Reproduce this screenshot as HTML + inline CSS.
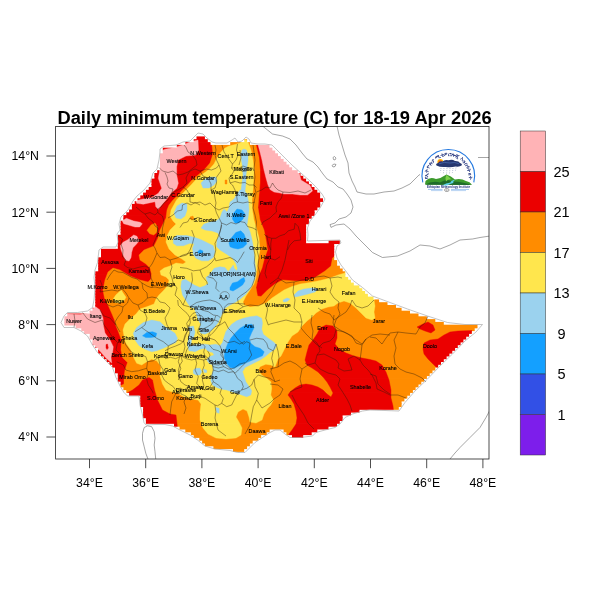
<!DOCTYPE html><html><head><meta charset="utf-8"><title>Daily minimum temperature</title><style>html,body{margin:0;padding:0;background:#fff}body{width:600px;height:600px;overflow:hidden}</style></head><body><svg width="600" height="600" viewBox="0 0 600 600" style="display:block;font-family:'Liberation Sans',sans-serif">
<rect width="600" height="600" fill="#fff"/>
<defs><clipPath id="cc"><rect x="196.5" y="136.4" width="8.4" height="3.61"/><rect x="193.7" y="139.2" width="14.1" height="3.61"/><rect x="244.3" y="139.2" width="2.8" height="3.61"/><rect x="185.3" y="142.1" width="25.3" height="3.61"/><rect x="230.2" y="142.1" width="19.7" height="3.61"/><rect x="176.8" y="144.9" width="92.7" height="3.61"/><rect x="162.8" y="147.7" width="109.6" height="3.61"/><rect x="162.8" y="150.5" width="112.4" height="3.61"/><rect x="160.0" y="153.3" width="118.0" height="3.61"/><rect x="160.0" y="156.1" width="120.8" height="3.61"/><rect x="160.0" y="158.9" width="123.6" height="3.61"/><rect x="160.0" y="161.7" width="126.5" height="3.61"/><rect x="160.0" y="164.5" width="129.3" height="3.61"/><rect x="160.0" y="167.3" width="132.1" height="3.61"/><rect x="157.2" y="170.2" width="140.5" height="3.61"/><rect x="154.4" y="173.0" width="146.1" height="3.61"/><rect x="154.4" y="175.8" width="148.9" height="3.61"/><rect x="151.5" y="178.6" width="154.6" height="3.61"/><rect x="151.5" y="181.4" width="157.4" height="3.61"/><rect x="151.5" y="184.2" width="160.2" height="3.61"/><rect x="148.7" y="187.0" width="165.8" height="3.61"/><rect x="145.9" y="189.8" width="171.4" height="3.61"/><rect x="143.1" y="192.6" width="177.0" height="3.61"/><rect x="140.3" y="195.4" width="179.8" height="3.61"/><rect x="137.5" y="198.3" width="185.5" height="3.61"/><rect x="134.7" y="201.1" width="185.5" height="3.61"/><rect x="131.9" y="203.9" width="188.3" height="3.61"/><rect x="131.9" y="206.7" width="185.5" height="3.61"/><rect x="129.1" y="209.5" width="185.5" height="3.61"/><rect x="126.3" y="212.3" width="188.3" height="3.61"/><rect x="123.4" y="215.1" width="188.3" height="3.61"/><rect x="123.4" y="217.9" width="185.5" height="3.61"/><rect x="120.6" y="220.7" width="188.3" height="3.61"/><rect x="120.6" y="223.5" width="185.5" height="3.61"/><rect x="120.6" y="226.4" width="185.5" height="3.61"/><rect x="120.6" y="229.2" width="185.5" height="3.61"/><rect x="120.6" y="232.0" width="185.5" height="3.61"/><rect x="117.8" y="234.8" width="188.3" height="3.61"/><rect x="117.8" y="237.6" width="188.3" height="3.61"/><rect x="117.8" y="240.4" width="188.3" height="3.61"/><rect x="328.6" y="240.4" width="11.2" height="3.61"/><rect x="117.8" y="243.2" width="216.4" height="3.61"/><rect x="117.8" y="246.0" width="216.4" height="3.61"/><rect x="101.0" y="248.8" width="233.2" height="3.61"/><rect x="101.0" y="251.6" width="233.2" height="3.61"/><rect x="101.0" y="254.5" width="233.2" height="3.61"/><rect x="98.2" y="257.3" width="236.0" height="3.61"/><rect x="98.2" y="260.1" width="238.9" height="3.61"/><rect x="98.2" y="262.9" width="238.9" height="3.61"/><rect x="98.2" y="265.7" width="241.7" height="3.61"/><rect x="98.2" y="268.5" width="244.5" height="3.61"/><rect x="95.3" y="271.3" width="250.1" height="3.61"/><rect x="95.3" y="274.1" width="250.1" height="3.61"/><rect x="95.3" y="276.9" width="252.9" height="3.61"/><rect x="95.3" y="279.7" width="255.7" height="3.61"/><rect x="95.3" y="282.6" width="258.5" height="3.61"/><rect x="95.3" y="285.4" width="264.1" height="3.61"/><rect x="95.3" y="288.2" width="267.0" height="3.61"/><rect x="95.3" y="291.0" width="269.8" height="3.61"/><rect x="95.3" y="293.8" width="272.6" height="3.61"/><rect x="95.3" y="296.6" width="278.2" height="3.61"/><rect x="95.3" y="299.4" width="283.8" height="3.61"/><rect x="95.3" y="302.2" width="292.2" height="3.61"/><rect x="95.3" y="305.0" width="300.7" height="3.61"/><rect x="92.5" y="307.8" width="309.1" height="3.61"/><rect x="89.7" y="310.7" width="320.3" height="3.61"/><rect x="67.2" y="313.5" width="351.3" height="3.61"/><rect x="64.4" y="316.3" width="362.5" height="3.61"/><rect x="64.4" y="319.1" width="370.9" height="3.61"/><rect x="64.4" y="321.9" width="379.4" height="3.61"/><rect x="75.7" y="324.7" width="401.8" height="3.61"/><rect x="81.3" y="327.5" width="393.4" height="3.61"/><rect x="84.1" y="330.3" width="387.8" height="3.61"/><rect x="89.7" y="333.1" width="379.4" height="3.61"/><rect x="89.7" y="335.9" width="376.5" height="3.61"/><rect x="92.5" y="338.8" width="370.9" height="3.61"/><rect x="92.5" y="341.6" width="368.1" height="3.61"/><rect x="95.3" y="344.4" width="362.5" height="3.61"/><rect x="98.2" y="347.2" width="356.9" height="3.61"/><rect x="98.2" y="350.0" width="354.1" height="3.61"/><rect x="101.0" y="352.8" width="348.4" height="3.61"/><rect x="103.8" y="355.6" width="342.8" height="3.61"/><rect x="106.6" y="358.4" width="337.2" height="3.61"/><rect x="109.4" y="361.2" width="331.6" height="3.61"/><rect x="112.2" y="364.0" width="326.0" height="3.61"/><rect x="115.0" y="366.9" width="320.3" height="3.61"/><rect x="115.0" y="369.7" width="317.5" height="3.61"/><rect x="117.8" y="372.5" width="311.9" height="3.61"/><rect x="117.8" y="375.3" width="309.1" height="3.61"/><rect x="117.8" y="378.1" width="306.3" height="3.61"/><rect x="120.6" y="380.9" width="300.7" height="3.61"/><rect x="120.6" y="383.7" width="297.9" height="3.61"/><rect x="123.4" y="386.5" width="292.2" height="3.61"/><rect x="126.3" y="389.3" width="286.6" height="3.61"/><rect x="129.1" y="392.1" width="281.0" height="3.61"/><rect x="140.3" y="395.0" width="267.0" height="3.61"/><rect x="140.3" y="397.8" width="264.1" height="3.61"/><rect x="140.3" y="400.6" width="261.3" height="3.61"/><rect x="140.3" y="403.4" width="261.3" height="3.61"/><rect x="143.1" y="406.2" width="255.7" height="3.61"/><rect x="143.1" y="409.0" width="216.4" height="3.61"/><rect x="143.1" y="411.8" width="207.9" height="3.61"/><rect x="143.1" y="414.6" width="199.5" height="3.61"/><rect x="145.9" y="417.4" width="196.7" height="3.61"/><rect x="145.9" y="420.2" width="193.9" height="3.61"/><rect x="174.0" y="423.1" width="163.0" height="3.61"/><rect x="179.6" y="425.9" width="148.9" height="3.61"/><rect x="185.3" y="428.7" width="84.3" height="3.61"/><rect x="283.6" y="428.7" width="33.7" height="3.61"/><rect x="190.9" y="431.5" width="75.9" height="3.61"/><rect x="286.4" y="431.5" width="25.3" height="3.61"/><rect x="193.7" y="434.3" width="67.4" height="3.61"/><rect x="292.0" y="434.3" width="11.2" height="3.61"/><rect x="199.3" y="437.1" width="59.0" height="3.61"/><rect x="202.1" y="439.9" width="50.6" height="3.61"/><rect x="204.9" y="442.7" width="45.0" height="3.61"/><rect x="213.4" y="445.5" width="33.7" height="3.61"/><rect x="233.0" y="448.3" width="11.2" height="3.61"/></clipPath><clipPath id="unused"><polygon points="160.0,149.0 164.0,146.0 176.0,145.0 183.0,142.0 190.0,141.0 194.0,137.0 198.0,133.0 203.0,134.0 207.0,138.0 212.0,142.0 216.0,143.0 227.0,143.0 232.0,140.0 235.0,138.0 238.0,142.0 242.0,141.0 246.0,137.0 249.0,139.0 251.0,143.0 258.0,144.0 265.0,144.0 272.0,145.0 282.0,155.0 292.0,165.0 302.0,174.0 310.0,181.0 316.0,187.0 322.0,194.0 325.0,199.0 320.0,208.0 315.0,215.0 310.0,221.0 307.5,228.0 308.0,235.0 307.5,241.0 323.0,240.5 340.0,240.0 341.0,243.0 337.0,246.0 335.5,252.0 337.0,258.0 341.0,265.0 345.0,270.0 352.5,280.0 362.5,287.5 372.5,296.0 390.0,302.5 407.5,309.0 427.5,316.0 447.5,322.5 465.0,324.5 482.5,324.5 476.0,332.0 465.0,341.0 452.5,354.0 440.0,366.0 427.5,379.0 415.0,391.0 405.0,402.5 399.0,411.0 385.0,410.5 370.0,410.0 362.5,411.0 352.5,414.0 345.0,417.5 340.0,424.0 335.0,427.5 325.0,430.0 316.0,432.5 312.5,436.0 300.0,437.5 290.0,437.5 285.0,434.0 280.0,430.0 275.0,430.0 270.0,432.5 262.5,437.5 255.0,442.5 250.0,447.5 245.0,452.5 237.5,452.5 230.0,450.5 215.0,449.0 205.0,446.0 197.5,440.0 190.0,435.0 180.0,430.0 172.5,426.0 165.0,424.5 155.0,424.5 146.0,425.0 144.0,422.5 142.5,415.0 140.0,405.0 139.0,396.0 127.5,396.0 124.0,392.5 120.0,386.0 116.0,377.5 112.5,367.5 105.0,360.0 97.5,352.5 92.5,345.0 87.5,336.0 81.0,331.0 74.0,327.5 64.0,327.5 61.0,322.5 64.0,316.0 67.5,312.5 77.5,312.5 87.5,311.0 92.5,307.5 94.0,300.0 95.0,287.5 94.0,277.5 95.0,270.0 97.5,262.5 99.0,250.0 103.0,247.0 116.0,247.0 118.0,242.0 117.0,234.0 120.0,230.0 119.0,224.0 121.0,217.0 128.0,210.0 133.0,201.0 137.0,196.0 144.0,190.0 150.0,183.0 153.0,173.0 157.0,169.0 159.0,160.0 160.0,152.0"/></clipPath><clipPath id="fr"><rect x="55.6" y="126.5" width="433.4" height="332.5"/></clipPath></defs>
<g clip-path="url(#fr)">
<polyline points="262.5,126.0 267.5,130.0 272.5,134.0 282.5,136.0 290.0,139.0 296.0,145.0 302.0,153.0 307.0,159.0 313.0,162.0 318.0,167.0 323.0,174.0 327.0,179.0 333.0,182.0 338.0,187.0 343.0,189.0 347.0,194.0 351.0,200.0 353.0,207.0 351.0,213.0 346.0,217.0 339.0,219.0 335.0,223.0 330.0,224.6 331.0,227.4 336.0,225.0 344.0,224.0 350.0,229.0 356.0,236.0 363.0,243.0 365.0,245.0 372.5,252.5 382.5,257.5 397.5,256.0 410.0,251.0 420.0,245.0 430.0,246.0 440.0,249.0 450.0,245.0 460.0,240.0 472.5,239.0 480.0,237.5 490.0,236.0" fill="none" stroke="#6a6a6a" stroke-width="0.6" />
<polyline points="337.0,126.0 339.0,135.0 342.0,145.0 345.0,155.0 348.0,163.0 349.0,173.0 352.0,181.0 355.0,187.0 357.0,192.0 366.0,194.0 374.0,194.0 384.0,192.0 394.0,191.0 402.0,188.0 410.0,184.0 415.0,179.0 419.0,175.0 425.0,172.0 440.0,166.0 460.0,160.0 477.5,157.5 490.0,157.5" fill="none" stroke="#6a6a6a" stroke-width="0.6" />
<polyline points="333.0,157.5 334.5,156.5 336.0,158.0 335.0,160.0 333.5,159.5 333.0,157.5" fill="none" stroke="#6a6a6a" stroke-width="0.6" />
<polyline points="332.0,165.5 334.0,164.0 336.0,164.5 335.0,166.5 333.0,167.0 332.0,165.5" fill="none" stroke="#6a6a6a" stroke-width="0.6" />
<polyline points="450.0,459.0 455.0,453.0 460.0,447.5 470.0,437.5 480.0,427.5 486.0,417.5 490.0,410.0" fill="none" stroke="#6a6a6a" stroke-width="0.6" />
<polyline points="151.7,426.7 147.5,425.8 144.2,427.5 142.5,433.3 142.5,440.0 144.2,446.7 145.8,453.3 148.3,460.0" fill="none" stroke="#6a6a6a" stroke-width="0.6" />
<polyline points="151.7,426.7 154.2,431.7 155.0,438.3 154.2,445.0 155.0,451.7 155.8,460.0" fill="none" stroke="#6a6a6a" stroke-width="0.6" />
<g clip-path="url(#cc)">
<polygon points="160.0,149.0 164.0,146.0 176.0,145.0 183.0,142.0 190.0,141.0 194.0,137.0 198.0,133.0 203.0,134.0 207.0,138.0 212.0,142.0 216.0,143.0 227.0,143.0 232.0,140.0 235.0,138.0 238.0,142.0 242.0,141.0 246.0,137.0 249.0,139.0 251.0,143.0 258.0,144.0 265.0,144.0 272.0,145.0 282.0,155.0 292.0,165.0 302.0,174.0 310.0,181.0 316.0,187.0 322.0,194.0 325.0,199.0 320.0,208.0 315.0,215.0 310.0,221.0 307.5,228.0 308.0,235.0 307.5,241.0 323.0,240.5 340.0,240.0 341.0,243.0 337.0,246.0 335.5,252.0 337.0,258.0 341.0,265.0 345.0,270.0 352.5,280.0 362.5,287.5 372.5,296.0 390.0,302.5 407.5,309.0 427.5,316.0 447.5,322.5 465.0,324.5 482.5,324.5 476.0,332.0 465.0,341.0 452.5,354.0 440.0,366.0 427.5,379.0 415.0,391.0 405.0,402.5 399.0,411.0 385.0,410.5 370.0,410.0 362.5,411.0 352.5,414.0 345.0,417.5 340.0,424.0 335.0,427.5 325.0,430.0 316.0,432.5 312.5,436.0 300.0,437.5 290.0,437.5 285.0,434.0 280.0,430.0 275.0,430.0 270.0,432.5 262.5,437.5 255.0,442.5 250.0,447.5 245.0,452.5 237.5,452.5 230.0,450.5 215.0,449.0 205.0,446.0 197.5,440.0 190.0,435.0 180.0,430.0 172.5,426.0 165.0,424.5 155.0,424.5 146.0,425.0 144.0,422.5 142.5,415.0 140.0,405.0 139.0,396.0 127.5,396.0 124.0,392.5 120.0,386.0 116.0,377.5 112.5,367.5 105.0,360.0 97.5,352.5 92.5,345.0 87.5,336.0 81.0,331.0 74.0,327.5 64.0,327.5 61.0,322.5 64.0,316.0 67.5,312.5 77.5,312.5 87.5,311.0 92.5,307.5 94.0,300.0 95.0,287.5 94.0,277.5 95.0,270.0 97.5,262.5 99.0,250.0 103.0,247.0 116.0,247.0 118.0,242.0 117.0,234.0 120.0,230.0 119.0,224.0 121.0,217.0 128.0,210.0 133.0,201.0 137.0,196.0 144.0,190.0 150.0,183.0 153.0,173.0 157.0,169.0 159.0,160.0 160.0,152.0" fill="#EB0000" />
<polygon points="208.0,132.0 257.0,132.0 256.0,145.0 259.0,157.5 260.0,170.0 260.0,182.5 259.0,195.0 258.0,207.5 260.0,220.0 264.0,230.0 266.0,240.0 267.5,250.0 264.0,260.0 262.0,268.0 259.0,275.0 256.0,287.5 257.5,296.0 261.0,296.5 267.5,290.0 275.0,284.0 282.5,280.0 295.0,281.0 305.0,281.0 315.0,277.5 325.0,271.0 331.0,266.0 332.5,258.0 340.0,252.0 360.0,275.0 400.0,295.0 495.0,318.0 495.0,335.0 400.0,425.0 300.0,450.0 200.0,455.0 150.0,432.0 135.0,400.0 125.0,400.0 120.0,386.0 124.0,384.0 124.0,377.5 125.0,370.0 127.5,362.5 122.5,357.5 121.0,350.0 121.5,340.0 118.5,332.0 116.0,326.0 114.5,320.0 112.0,314.0 108.5,306.0 104.5,298.0 103.0,290.0 105.0,280.0 108.0,272.0 113.0,268.0 120.0,270.0 130.0,276.0 140.0,280.0 148.0,282.0 151.0,279.0 151.5,274.0 150.0,268.0 146.0,264.0 140.0,260.0 139.0,255.0 144.0,250.0 154.0,246.0 157.0,240.0 158.0,238.0 160.0,230.0 163.0,224.0 166.0,218.0 167.0,210.0 169.0,205.0 173.0,200.0 178.0,195.0 182.5,190.0 187.5,185.0 192.0,180.0 198.0,175.0 204.0,170.0 210.0,163.0 213.0,154.0 212.0,145.0 208.0,138.0" fill="#FF8C00" stroke="#FF8C00" stroke-width="0.4" stroke-linejoin="round"/>
<polygon points="147.0,230.3 151.0,225.0 155.0,223.0 157.7,227.0 157.0,232.3 153.7,235.0 149.7,233.7" fill="#FF8C00" stroke="#FF8C00" stroke-width="0.4" stroke-linejoin="round"/>
<polygon points="317.0,334.0 320.0,328.0 326.0,325.0 333.0,326.0 337.0,331.0 337.0,338.0 335.0,344.0 339.0,349.0 346.0,353.0 354.0,356.0 362.0,358.0 370.0,359.5 376.0,361.0 382.0,365.0 386.0,372.0 389.0,380.0 391.0,390.0 391.0,398.0 393.0,406.0 394.0,415.0 340.0,430.0 300.0,445.0 287.0,442.0 289.0,434.0 292.0,430.0 296.0,424.0 297.0,418.0 296.0,411.0 294.0,404.0 291.0,399.0 288.0,395.0 290.0,392.0 295.0,388.0 300.0,385.0 306.0,384.0 312.0,385.0 318.0,387.0 323.0,390.0 327.0,394.0 331.0,397.0 333.0,393.0 330.0,387.0 327.0,382.0 323.0,377.0 318.0,372.0 312.0,368.0 307.0,365.0 305.0,360.0 307.0,352.0 309.0,345.0 313.0,340.0" fill="#EB0000" stroke="#EB0000" stroke-width="0.4" stroke-linejoin="round"/>
<polygon points="142.5,380.0 149.0,377.5 152.5,380.0 154.5,390.0 157.5,400.0 162.5,410.0 170.0,414.0 176.0,415.0 177.5,428.0 140.0,432.0 136.0,400.0 126.0,398.0 127.0,393.0 132.5,390.0 139.0,385.0" fill="#EB0000" stroke="#EB0000" stroke-width="0.4" stroke-linejoin="round"/>
<polygon points="417.0,327.0 423.0,324.0 428.0,322.0 433.0,325.0 435.0,330.0 431.0,333.0 425.0,331.0 420.0,329.0" fill="#EB0000" stroke="#EB0000" stroke-width="0.4" stroke-linejoin="round"/>
<polygon points="423.0,349.0 424.0,343.0 430.0,340.0 438.0,339.0 444.0,335.0 450.0,332.0 458.0,331.0 472.0,330.5 470.0,345.0 445.0,372.0 443.0,362.0 437.0,368.0 433.0,364.0 428.0,359.0 424.0,354.0" fill="#EB0000" stroke="#EB0000" stroke-width="0.4" stroke-linejoin="round"/>
<polygon points="257.5,143.0 272.5,144.0 282.5,154.0 292.5,164.0 299.0,172.0 301.0,180.0 310.0,185.5 312.5,191.0 307.5,195.0 300.0,195.0 292.5,194.0 284.0,194.0 280.0,193.0 274.0,192.0 270.0,189.5 268.0,185.0 266.0,178.0 264.0,170.0 262.0,160.0 260.0,152.0" fill="#FFB3B6" stroke="#FFB3B6" stroke-width="0.4" stroke-linejoin="round"/>
<polygon points="159.2,151.7 165.0,149.2 176.7,147.0 183.3,144.7 190.0,142.0 198.0,140.0 198.5,150.0 196.0,155.0 186.0,156.0 178.0,160.0 176.7,166.7 176.7,175.0 178.3,183.3 176.7,188.3 171.7,192.5 166.7,199.2 161.7,205.0 158.3,209.2 155.8,206.7 155.0,201.7 143.3,204.2 136.7,203.3 135.8,200.8 141.7,199.2 151.7,197.5 158.3,193.3 161.7,188.3 160.0,183.3 158.3,178.3 159.2,173.3 160.0,168.3 159.2,163.3" fill="#FFB3B6" stroke="#FFB3B6" stroke-width="0.4" stroke-linejoin="round"/>
<polygon points="122.3,221.0 126.3,218.3 133.7,221.0 140.3,222.3 142.3,223.7 139.7,227.0 135.0,227.0 128.3,225.0 123.7,223.7" fill="#FFB3B6" stroke="#FFB3B6" stroke-width="0.4" stroke-linejoin="round"/>
<polygon points="120.3,245.7 123.0,242.3 127.7,239.7 133.7,235.0 137.0,236.3 139.0,241.0 136.3,244.3 133.0,247.7 131.7,252.3 131.0,257.7 129.0,261.0 125.7,260.3 123.0,255.0 121.0,249.7" fill="#FFB3B6" stroke="#FFB3B6" stroke-width="0.4" stroke-linejoin="round"/>
<polygon points="67.5,314.0 80.0,314.5 88.0,313.0 92.0,309.0 96.0,307.0 100.0,310.0 103.0,318.0 103.5,326.0 105.0,333.0 110.0,340.0 113.3,346.7 112.5,353.0 111.0,357.0 111.7,363.0 106.0,358.0 99.0,350.0 92.5,344.0 87.5,336.0 81.0,331.0 74.0,327.5 60.0,328.0 58.0,321.0 62.0,313.0" fill="#FFB3B6" stroke="#FFB3B6" stroke-width="0.4" stroke-linejoin="round"/>
<polygon points="106.0,344.5 107.5,344.0 108.3,348.0 107.0,349.5 106.0,348.0" fill="#EB0000" stroke="#EB0000" stroke-width="0.4" stroke-linejoin="round"/>
<polygon points="229.0,146.0 235.0,144.5 240.0,143.0 243.0,141.0 246.0,139.5 248.0,142.0 251.0,150.0 253.0,160.0 254.0,170.0 253.6,180.0 253.0,190.0 252.0,200.0 252.4,210.0 254.0,220.0 257.0,230.0 259.0,238.0 259.5,245.0 260.0,250.0 258.0,260.0 257.0,270.0 256.0,278.0 254.0,284.0 250.0,290.0 246.0,296.0 243.0,302.0 244.0,305.0 250.0,307.0 258.0,306.0 266.0,303.0 272.0,298.0 278.0,294.0 284.0,290.0 292.0,286.5 300.0,284.0 310.0,282.5 320.0,280.5 330.0,278.0 338.0,275.0 345.0,273.0 346.0,268.0 352.0,268.0 358.0,278.0 368.0,286.0 378.0,295.0 374.0,300.0 375.0,306.0 374.0,312.0 375.0,318.0 372.0,320.0 366.0,318.0 361.0,313.0 356.0,308.0 350.0,303.0 344.0,301.0 338.0,303.0 334.0,306.0 328.0,307.0 322.0,309.0 316.0,313.0 312.0,317.0 307.0,321.0 302.0,326.0 298.0,332.0 292.0,336.0 288.0,342.0 284.0,350.0 281.0,356.0 278.0,359.0 275.0,367.0 270.8,365.0 265.8,364.2 260.0,366.7 258.3,370.0 261.7,375.0 266.7,378.3 270.8,381.7 271.7,388.3 270.8,395.0 273.3,400.0 270.8,405.0 268.0,408.0 264.0,414.0 262.0,420.0 256.0,423.0 250.0,422.0 249.0,417.0 247.0,411.0 243.0,409.0 238.0,412.0 236.0,417.0 239.0,422.0 242.0,428.0 241.0,435.0 236.0,438.0 226.0,439.0 216.0,438.0 208.0,434.0 203.0,428.0 200.0,420.0 200.0,412.0 201.0,404.0 198.0,400.0 192.0,399.0 184.0,397.0 178.0,393.0 172.5,392.0 166.0,390.0 162.5,384.0 160.0,376.0 161.0,367.5 160.0,365.0 156.7,360.8 151.7,359.2 146.7,361.7 141.7,365.0 136.7,363.3 133.3,356.7 130.8,350.0 125.5,342.5 124.0,336.0 123.0,330.0 125.0,324.0 130.0,319.0 136.0,314.0 140.0,309.0 146.0,307.0 154.0,304.0 156.0,299.0 159.0,295.0 164.0,290.0 168.0,285.0 169.0,280.0 166.0,277.0 161.0,275.0 160.0,271.0 164.0,268.0 170.0,266.0 176.0,263.0 183.0,264.0 186.0,262.0 182.0,259.0 175.0,255.0 169.0,249.0 166.0,242.0 167.0,236.0 170.0,230.0 172.0,228.0 176.0,224.0 173.0,221.0 170.0,216.0 171.0,210.0 176.5,200.0 181.0,195.0 186.0,190.0 191.0,185.0 195.5,180.0 202.0,174.5 209.0,169.5 214.0,164.0 218.0,156.0 221.0,152.0 225.0,148.0" fill="#FFE64D" stroke="#FFE64D" stroke-width="0.4" stroke-linejoin="round"/>
<polygon points="113.3,298.7 116.0,294.7 121.3,290.0 123.3,293.3 126.0,297.3 124.0,300.7 120.0,302.7 115.3,302.7" fill="#FFE64D" stroke="#FFE64D" stroke-width="0.4" stroke-linejoin="round"/>
<polygon points="201.0,183.0 205.0,179.0 211.0,177.0 216.0,177.0 217.0,181.0 214.0,185.0 209.0,188.0 203.0,188.0" fill="#9BD2EE" stroke="#9BD2EE" stroke-width="0.4" stroke-linejoin="round"/>
<polygon points="242.0,150.0 244.0,149.0 246.5,150.0 248.0,155.0 248.0,161.0 247.0,167.0 246.0,175.0 246.0,183.0 245.0,191.0 243.0,195.0 241.0,191.0 242.0,183.0 243.0,175.0 242.5,167.0 241.5,160.0 241.0,154.0" fill="#9BD2EE" stroke="#9BD2EE" stroke-width="0.4" stroke-linejoin="round"/>
<polygon points="177.0,206.0 182.0,203.0 187.0,204.0 187.0,210.0 185.0,216.0 181.0,219.0 176.0,218.0 174.0,213.0" fill="#9BD2EE" stroke="#9BD2EE" stroke-width="0.4" stroke-linejoin="round"/>
<polygon points="173.3,238.3 176.7,235.5 186.7,235.5 195.0,237.5 201.7,240.0 208.3,243.3 213.3,245.8 215.0,251.7 213.3,257.5 208.3,260.8 201.7,260.8 195.8,258.3 193.3,254.2 192.5,248.3 194.2,243.8 190.0,243.3 183.3,245.8 176.7,245.8 173.3,243.3" fill="#9BD2EE" stroke="#9BD2EE" stroke-width="0.4" stroke-linejoin="round"/>
<polygon points="240.0,190.0 244.0,190.0 247.0,194.0 248.5,202.0 249.0,210.0 248.0,218.0 247.0,225.0 250.0,231.7 251.7,238.3 253.3,246.7 254.2,255.0 255.0,263.3 255.8,271.7 255.0,278.3 252.5,285.0 249.2,290.0 245.0,295.0 240.0,299.2 235.0,302.5 230.0,305.0 225.0,308.3 222.5,313.3 221.7,315.0 220.0,318.3 218.3,322.5 215.0,326.7 210.0,331.7 205.0,334.2 200.8,333.3 199.2,329.2 200.8,324.2 198.3,320.0 196.7,315.0 194.2,308.3 190.0,306.7 186.7,301.7 182.5,295.0 180.8,286.7 181.7,280.8 185.0,279.2 189.2,281.7 194.2,285.0 200.0,287.5 205.0,285.8 208.3,283.3 207.0,280.5 205.8,277.5 208.3,275.8 211.7,271.7 214.2,268.3 220.0,266.7 225.0,267.5 228.3,271.7 230.8,268.3 233.3,265.0 234.2,268.3 236.7,270.8 237.5,268.3 235.8,263.3 232.5,258.3 226.7,254.2 220.0,250.0 216.5,246.5 217.0,240.0 219.0,236.0 218.0,233.0 212.0,231.0 205.0,230.0 201.0,228.0 204.0,224.0 210.0,222.0 216.0,221.0 220.0,218.0 222.0,212.0 224.0,209.0 227.0,212.0 229.0,208.0 230.0,202.0 234.0,199.0 237.0,194.0" fill="#9BD2EE" stroke="#9BD2EE" stroke-width="0.4" stroke-linejoin="round"/>
<polygon points="133.3,333.3 136.7,327.5 143.3,322.5 151.7,320.0 160.0,321.7 165.0,326.7 170.0,330.0 175.0,333.3 177.5,338.3 175.8,342.5 170.0,345.0 163.3,348.3 156.7,350.8 151.7,351.7 145.0,349.2 139.2,345.8 135.0,340.0" fill="#9BD2EE" stroke="#9BD2EE" stroke-width="0.4" stroke-linejoin="round"/>
<polygon points="228.3,328.3 231.7,324.2 236.7,320.8 243.3,318.3 250.0,316.7 256.7,315.8 261.7,318.3 262.5,323.3 261.7,329.2 263.3,334.2 268.3,338.3 273.3,341.7 276.7,345.0 275.0,349.2 270.0,352.5 265.0,356.7 260.0,360.0 255.0,362.5 250.0,365.0 245.0,367.5 242.5,371.7 244.2,376.7 245.8,381.7 249.2,386.7 251.7,390.8 250.8,395.0 246.7,396.7 241.7,395.0 236.7,393.3 231.7,391.7 226.7,390.0 221.7,389.2 216.7,387.5 212.5,385.0 210.8,380.8 211.7,375.0 213.3,370.0 212.5,365.0 209.2,363.3 206.7,360.0 209.2,356.7 214.2,355.0 212.5,352.5 207.5,350.8 205.0,348.3 200.0,349.2 195.0,351.7 190.0,350.8 189.2,347.5 192.5,345.0 198.3,344.2 205.0,344.2 210.0,345.0 215.8,344.2 220.0,345.8 222.5,342.5 224.2,336.7 225.8,331.7" fill="#9BD2EE" stroke="#9BD2EE" stroke-width="0.4" stroke-linejoin="round"/>
<polygon points="209.0,350.0 212.0,349.5 213.0,351.5 210.0,352.0" fill="#9BD2EE" stroke="#9BD2EE" stroke-width="0.4" stroke-linejoin="round"/>
<polygon points="193.3,370.0 195.8,368.3 200.0,368.3 201.7,371.7 200.0,375.0 195.8,375.0 193.3,373.3" fill="#9BD2EE" stroke="#9BD2EE" stroke-width="0.4" stroke-linejoin="round"/>
<polygon points="203.3,369.2 206.7,370.0 206.7,372.5 204.2,372.5" fill="#9BD2EE" stroke="#9BD2EE" stroke-width="0.4" stroke-linejoin="round"/>
<polygon points="215.8,407.5 219.2,408.3 219.2,413.3 216.7,412.5" fill="#9BD2EE" stroke="#9BD2EE" stroke-width="0.4" stroke-linejoin="round"/>
<polygon points="294.0,295.0 298.0,291.0 304.0,289.0 312.0,288.0 318.0,289.0 315.0,292.0 308.0,294.0 300.0,296.0 295.0,297.0" fill="#9BD2EE" stroke="#9BD2EE" stroke-width="0.4" stroke-linejoin="round"/>
<polygon points="283.0,300.0 287.0,298.0 290.0,299.0 287.0,301.6 283.6,302.0" fill="#9BD2EE" stroke="#9BD2EE" stroke-width="0.4" stroke-linejoin="round"/>
<polygon points="188.5,327.0 193.5,326.0 195.0,332.0 193.7,337.3 191.5,340.0 191.0,345.3 191.7,350.7 189.0,351.0 187.5,345.0 188.5,338.0 190.0,333.0" fill="#9BD2EE" stroke="#9BD2EE" stroke-width="0.4" stroke-linejoin="round"/>
<polygon points="233.0,214.0 237.0,209.0 242.0,210.0 245.0,214.0 243.0,219.0 239.0,223.0 235.0,223.0 232.4,219.0" fill="#14A0FF" stroke="#14A0FF" stroke-width="0.4" stroke-linejoin="round"/>
<polygon points="229.0,243.0 231.7,237.5 235.8,232.5 240.8,230.8 244.0,234.0 245.8,239.0 246.7,244.0 243.0,247.5 238.0,249.0 233.0,248.0 230.0,246.7" fill="#14A0FF" stroke="#14A0FF" stroke-width="0.4" stroke-linejoin="round"/>
<polygon points="230.0,287.5 232.5,283.0 237.5,281.7 241.0,279.0 244.0,277.5 245.0,281.0 242.5,285.0 238.0,288.0 233.0,291.0 230.0,290.0" fill="#14A0FF" stroke="#14A0FF" stroke-width="0.4" stroke-linejoin="round"/>
<polygon points="197.5,251.7 200.0,249.7 203.0,251.0 202.5,253.0 199.0,253.7" fill="#14A0FF" stroke="#14A0FF" stroke-width="0.4" stroke-linejoin="round"/>
<polygon points="142.5,335.8 146.7,332.5 152.5,331.7 156.7,333.3 155.8,336.7 150.8,337.5 145.8,337.5" fill="#14A0FF" stroke="#14A0FF" stroke-width="0.4" stroke-linejoin="round"/>
<polygon points="224.2,357.5 225.0,350.8 227.5,344.2 230.8,338.3 235.0,333.3 240.0,328.3 245.8,325.0 251.7,324.2 254.2,327.5 251.7,332.5 249.2,338.3 250.8,343.3 255.0,346.7 260.0,348.3 264.2,351.7 262.5,355.8 256.7,358.3 250.8,360.8 245.0,363.3 239.2,365.8 234.2,368.3 230.0,367.5 226.7,363.3" fill="#14A0FF" stroke="#14A0FF" stroke-width="0.4" stroke-linejoin="round"/>
<polygon points="225.0,180.0 227.0,180.0 227.0,184.0 225.0,184.0" fill="#FF8C00" stroke="#FF8C00" stroke-width="0.4" stroke-linejoin="round"/>
<polygon points="190.0,217.0 193.0,216.0 194.0,219.0 191.0,220.0" fill="#FF8C00" stroke="#FF8C00" stroke-width="0.4" stroke-linejoin="round"/>
</g>
<polyline points="159.0,167.5 162.5,171.0 168.0,172.5 173.0,171.0 178.0,175.0 183.0,174.0 188.0,172.0 193.0,168.0 197.0,165.0 196.0,160.0 192.5,155.0 188.0,152.0 186.0,147.5 184.0,145.0" fill="none" stroke="#2a1a0a" stroke-width="0.5" stroke-linejoin="round" opacity="0.85"/>
<polyline points="165.0,172.5 167.0,177.0 168.0,181.0 167.0,184.0 169.0,188.0 173.0,189.0 172.0,192.5 170.0,196.0 168.0,200.0 164.0,203.0 161.0,207.0 157.5,209.0 158.0,212.5" fill="none" stroke="#2a1a0a" stroke-width="0.5" stroke-linejoin="round" opacity="0.85"/>
<polyline points="136.0,207.0 142.0,212.0 145.0,214.0 150.0,212.5 155.0,215.0 157.5,212.5 162.5,216.0 164.0,222.0 162.5,228.0 162.0,235.0" fill="none" stroke="#2a1a0a" stroke-width="0.5" stroke-linejoin="round" opacity="0.85"/>
<polyline points="145.0,214.0 148.0,218.0 153.0,222.0 155.0,226.0 158.0,228.0 157.0,233.0" fill="none" stroke="#2a1a0a" stroke-width="0.5" stroke-linejoin="round" opacity="0.85"/>
<polyline points="170.0,196.0 173.0,192.5 178.0,190.0 183.0,187.0 187.0,183.0 186.0,178.0 188.0,174.0" fill="none" stroke="#2a1a0a" stroke-width="0.5" stroke-linejoin="round" opacity="0.85"/>
<polyline points="168.0,218.0 173.0,215.0 177.5,211.0 182.0,210.0 182.5,205.0 187.0,203.0 191.0,205.0 195.0,202.5 200.0,205.0" fill="none" stroke="#2a1a0a" stroke-width="0.5" stroke-linejoin="round" opacity="0.85"/>
<polyline points="180.0,227.5 183.0,223.0 187.5,222.0 190.0,218.0 193.0,220.0 197.5,217.5 200.0,218.0" fill="none" stroke="#2a1a0a" stroke-width="0.5" stroke-linejoin="round" opacity="0.85"/>
<polyline points="215.0,145.0 216.0,150.0 215.0,155.0 216.5,160.0 219.0,165.0 216.5,168.0 211.5,170.0 206.5,169.0 200.0,171.0 195.0,169.0 190.0,171.0 188.0,174.0" fill="none" stroke="#2a1a0a" stroke-width="0.5" stroke-linejoin="round" opacity="0.85"/>
<polyline points="237.5,144.0 236.5,150.0 238.0,155.0 236.0,160.0 232.5,164.0 231.5,168.0 234.0,171.0 231.5,175.0 229.0,178.0 230.0,183.0 232.5,185.0" fill="none" stroke="#2a1a0a" stroke-width="0.5" stroke-linejoin="round" opacity="0.85"/>
<polyline points="219.0,165.0 221.0,171.0 218.0,175.0 216.0,178.0 216.5,183.0 215.0,188.0 211.0,190.0" fill="none" stroke="#2a1a0a" stroke-width="0.5" stroke-linejoin="round" opacity="0.85"/>
<polyline points="231.5,168.0 237.5,167.5 243.0,169.0 248.0,167.5 252.5,168.0 254.0,171.0" fill="none" stroke="#2a1a0a" stroke-width="0.5" stroke-linejoin="round" opacity="0.85"/>
<polyline points="240.0,167.5 243.0,166.0 247.0,167.5 246.5,171.0 242.5,171.5 240.0,170.0 240.0,167.5" fill="none" stroke="#2a1a0a" stroke-width="0.5" stroke-linejoin="round" opacity="0.85"/>
<polyline points="230.0,183.0 235.0,181.5 240.0,183.0 245.0,182.5 249.0,185.0 254.0,185.0 256.5,187.5" fill="none" stroke="#2a1a0a" stroke-width="0.5" stroke-linejoin="round" opacity="0.85"/>
<polyline points="253.0,145.0 254.0,152.0 255.0,160.0 254.0,168.0 255.0,177.0 254.0,185.0 256.0,193.0 254.0,202.0 253.0,208.0 255.0,215.0 256.5,222.0 256.0,228.0 256.5,235.0 258.0,242.0 257.0,250.0 259.0,258.0 258.0,266.0 260.0,274.0 258.0,282.0" fill="none" stroke="#2a1a0a" stroke-width="0.5" stroke-linejoin="round" opacity="0.85"/>
<polyline points="256.5,192.0 261.5,190.0 266.0,187.0 270.0,188.0 272.5,183.0 275.0,187.0 278.0,190.0 283.0,192.0 290.0,192.5 298.0,191.0 305.0,193.0 311.0,190.0" fill="none" stroke="#2a1a0a" stroke-width="0.5" stroke-linejoin="round" opacity="0.85"/>
<polyline points="283.0,192.0 281.5,198.0 278.0,202.0 276.0,207.0 276.5,212.0 273.0,215.0 270.0,218.0 266.5,220.0 263.0,222.0 261.5,225.0" fill="none" stroke="#2a1a0a" stroke-width="0.5" stroke-linejoin="round" opacity="0.85"/>
<polyline points="232.5,185.0 235.0,190.0 236.5,195.0 237.5,202.0 243.0,203.0 247.5,202.0 251.5,203.0 255.0,202.0" fill="none" stroke="#2a1a0a" stroke-width="0.5" stroke-linejoin="round" opacity="0.85"/>
<polyline points="211.0,190.0 214.0,192.5 215.0,198.0 216.0,203.0 215.0,208.0 219.0,210.0 223.0,208.0 229.0,207.0 233.0,203.0 237.5,202.0" fill="none" stroke="#2a1a0a" stroke-width="0.5" stroke-linejoin="round" opacity="0.85"/>
<polyline points="183.0,187.0 187.0,190.0 190.0,196.0 190.0,202.0 195.0,203.0 200.0,202.0 205.0,205.0 210.0,203.0 215.0,208.0" fill="none" stroke="#2a1a0a" stroke-width="0.5" stroke-linejoin="round" opacity="0.85"/>
<polyline points="215.0,208.0 216.5,213.0 219.0,218.0 221.5,223.0 221.0,228.0 219.0,235.0 221.7,240.0" fill="none" stroke="#2a1a0a" stroke-width="0.5" stroke-linejoin="round" opacity="0.85"/>
<polyline points="221.5,223.0 226.5,225.0 231.0,222.5 236.0,224.0 240.0,221.5 245.0,222.5 247.5,226.5 253.0,228.0 256.5,230.0" fill="none" stroke="#2a1a0a" stroke-width="0.5" stroke-linejoin="round" opacity="0.85"/>
<polyline points="118.0,236.0 122.5,239.0 121.0,244.0 123.0,250.0 122.5,257.0 126.0,260.0 124.0,265.0 127.5,267.5 133.0,269.0 138.0,267.5 145.0,266.0 149.0,268.0" fill="none" stroke="#2a1a0a" stroke-width="0.5" stroke-linejoin="round" opacity="0.85"/>
<polyline points="157.0,225.0 158.0,232.0 156.0,238.0 153.0,245.0 155.0,248.0 157.0,253.0 160.0,257.5 165.0,257.0 170.0,260.0 177.0,258.0 183.0,255.0 190.0,253.0" fill="none" stroke="#2a1a0a" stroke-width="0.5" stroke-linejoin="round" opacity="0.85"/>
<polyline points="157.0,253.0 154.0,260.0 152.0,264.0 149.0,268.0 150.0,273.0 151.0,278.0 153.0,282.5 152.0,287.5" fill="none" stroke="#2a1a0a" stroke-width="0.5" stroke-linejoin="round" opacity="0.85"/>
<polyline points="107.0,280.0 110.0,275.0 114.0,270.0 118.0,272.0 123.0,272.5 127.5,275.0 132.0,277.5 137.0,279.0 142.0,283.0 147.0,286.0 151.0,287.5 155.0,287.0 160.0,288.0 167.0,286.0 172.0,287.0 173.0,282.5" fill="none" stroke="#2a1a0a" stroke-width="0.5" stroke-linejoin="round" opacity="0.85"/>
<polyline points="100.0,292.0 105.0,291.0 112.0,290.0 117.5,291.0 122.5,289.0 126.0,293.0 129.0,298.0 127.5,303.0 123.0,307.0 118.0,305.0 113.0,307.0 108.0,305.0 105.0,302.0 100.0,300.0" fill="none" stroke="#2a1a0a" stroke-width="0.5" stroke-linejoin="round" opacity="0.85"/>
<polyline points="142.0,283.0 143.0,289.0 147.0,293.0 147.5,298.0 143.0,302.5 138.0,305.0 133.0,303.0 129.0,298.0" fill="none" stroke="#2a1a0a" stroke-width="0.5" stroke-linejoin="round" opacity="0.85"/>
<polyline points="170.0,260.0 172.0,267.0 170.0,273.0 172.0,278.0 173.0,282.5 177.0,288.0 175.0,295.0 180.0,300.0 183.0,305.0 190.0,307.0" fill="none" stroke="#2a1a0a" stroke-width="0.5" stroke-linejoin="round" opacity="0.85"/>
<polyline points="147.5,298.0 152.0,297.0 157.0,298.0 160.0,302.0 165.0,303.0 170.0,308.0 168.0,313.0 165.0,318.0 167.0,325.0 170.0,330.0" fill="none" stroke="#2a1a0a" stroke-width="0.5" stroke-linejoin="round" opacity="0.85"/>
<polyline points="138.0,305.0 140.0,310.0 145.0,313.0 147.0,318.0 145.0,325.0 141.7,327.5" fill="none" stroke="#2a1a0a" stroke-width="0.5" stroke-linejoin="round" opacity="0.85"/>
<polyline points="123.0,307.0 122.0,312.0 118.0,317.0 115.0,322.0 116.0,325.0 120.0,332.0" fill="none" stroke="#2a1a0a" stroke-width="0.5" stroke-linejoin="round" opacity="0.85"/>
<polyline points="100.0,280.0 102.0,285.0 100.0,292.0" fill="none" stroke="#2a1a0a" stroke-width="0.5" stroke-linejoin="round" opacity="0.85"/>
<polyline points="221.7,225.0 220.0,231.7 217.5,238.3 215.0,243.3 215.8,250.0 214.2,256.7 215.8,260.8 223.3,259.2 230.0,257.5 235.0,260.0 237.5,262.5 240.8,257.5 244.2,251.7" fill="none" stroke="#2a1a0a" stroke-width="0.5" stroke-linejoin="round" opacity="0.85"/>
<polyline points="191.7,230.0 194.2,236.7 192.5,243.3 190.0,250.0 186.7,255.0 180.0,256.7" fill="none" stroke="#2a1a0a" stroke-width="0.5" stroke-linejoin="round" opacity="0.85"/>
<polyline points="180.0,267.5 186.7,268.3 193.3,270.8 200.0,270.0 206.7,266.7 211.7,262.5 215.0,258.3" fill="none" stroke="#2a1a0a" stroke-width="0.5" stroke-linejoin="round" opacity="0.85"/>
<polyline points="191.7,272.5 192.5,280.0 190.8,286.7 188.3,291.7 186.0,298.0 183.0,305.0" fill="none" stroke="#2a1a0a" stroke-width="0.5" stroke-linejoin="round" opacity="0.85"/>
<polyline points="200.0,270.0 202.5,276.7 206.7,281.7 207.5,285.0" fill="none" stroke="#2a1a0a" stroke-width="0.5" stroke-linejoin="round" opacity="0.85"/>
<polyline points="207.5,276.7 213.3,278.3 216.7,282.5 215.8,288.3 219.2,291.7" fill="none" stroke="#2a1a0a" stroke-width="0.5" stroke-linejoin="round" opacity="0.85"/>
<polyline points="253.3,246.7 255.0,255.0 254.2,263.3 255.8,271.7 254.2,280.0 251.7,286.7 246.7,291.7 241.7,295.0 237.5,298.3 238.3,303.3 243.3,306.7" fill="none" stroke="#2a1a0a" stroke-width="0.5" stroke-linejoin="round" opacity="0.85"/>
<polyline points="222.5,313.3 230.0,311.7 236.7,310.8 243.3,306.7 250.0,305.0 258.3,305.8 263.3,303.3 266.7,298.3 271.7,291.7 275.0,285.0 278.3,280.0" fill="none" stroke="#2a1a0a" stroke-width="0.5" stroke-linejoin="round" opacity="0.85"/>
<polyline points="266.7,235.0 268.3,243.3 270.8,250.0 270.0,258.3 266.7,265.0 265.0,273.3 266.7,278.3" fill="none" stroke="#2a1a0a" stroke-width="0.5" stroke-linejoin="round" opacity="0.85"/>
<polyline points="295.0,223.3 298.3,226.7 300.0,233.3 300.8,240.0 294.2,240.8 290.0,245.0 287.5,250.0" fill="none" stroke="#2a1a0a" stroke-width="0.5" stroke-linejoin="round" opacity="0.85"/>
<polyline points="295.0,223.3 294.2,229.2 288.3,230.8 285.0,234.2 280.0,235.8 275.8,238.3 271.7,238.3 270.8,243.3 270.8,250.0" fill="none" stroke="#2a1a0a" stroke-width="0.5" stroke-linejoin="round" opacity="0.85"/>
<polyline points="271.7,238.3 266.7,236.7 264.2,234.2" fill="none" stroke="#2a1a0a" stroke-width="0.5" stroke-linejoin="round" opacity="0.85"/>
<polyline points="270.0,258.3 275.0,260.0 280.0,256.7" fill="none" stroke="#2a1a0a" stroke-width="0.5" stroke-linejoin="round" opacity="0.85"/>
<polyline points="190.0,306.7 196.7,302.5 203.3,300.8 210.0,300.0 215.8,301.7 220.0,304.2 222.5,308.3 222.5,313.3" fill="none" stroke="#2a1a0a" stroke-width="0.5" stroke-linejoin="round" opacity="0.85"/>
<polyline points="198.3,305.0 201.7,310.0 208.3,311.7 213.3,315.0 218.3,315.8 220.8,318.3" fill="none" stroke="#2a1a0a" stroke-width="0.5" stroke-linejoin="round" opacity="0.85"/>
<polyline points="191.7,318.3 196.7,315.0 201.7,315.8 205.0,320.0 210.0,321.7 215.0,320.0 220.0,322.5" fill="none" stroke="#2a1a0a" stroke-width="0.5" stroke-linejoin="round" opacity="0.85"/>
<polyline points="266.7,302.5 267.5,310.0 265.8,318.3 268.3,325.0 270.0,324.0" fill="none" stroke="#2a1a0a" stroke-width="0.5" stroke-linejoin="round" opacity="0.85"/>
<polyline points="289.0,240.0 287.0,250.0 285.0,260.0 282.0,270.0 278.0,278.0 270.0,284.0" fill="none" stroke="#2a1a0a" stroke-width="0.5" stroke-linejoin="round" opacity="0.85"/>
<polyline points="278.0,278.0 286.0,283.0 294.0,282.0 302.0,280.0 310.0,279.0 316.0,277.0 324.0,276.0 330.0,278.0 338.0,277.0 342.0,278.0" fill="none" stroke="#2a1a0a" stroke-width="0.5" stroke-linejoin="round" opacity="0.85"/>
<polyline points="330.0,278.0 332.0,286.0 330.0,292.0 334.0,298.0 339.0,302.0 338.0,308.0 340.0,314.0 336.0,320.0 334.0,326.0" fill="none" stroke="#2a1a0a" stroke-width="0.5" stroke-linejoin="round" opacity="0.85"/>
<polyline points="294.0,282.0 293.0,292.0 295.0,300.0 294.0,308.0 300.0,314.0 302.0,322.0 301.0,328.0" fill="none" stroke="#2a1a0a" stroke-width="0.5" stroke-linejoin="round" opacity="0.85"/>
<polyline points="270.0,324.0 278.0,322.0 286.0,320.0 294.0,322.0 302.0,322.0" fill="none" stroke="#2a1a0a" stroke-width="0.5" stroke-linejoin="round" opacity="0.85"/>
<polyline points="352.0,300.0 356.0,306.0 362.0,308.0 368.0,306.0 374.0,300.0" fill="none" stroke="#2a1a0a" stroke-width="0.5" stroke-linejoin="round" opacity="0.85"/>
<polyline points="318.0,308.0 324.0,312.0 330.0,314.0 334.0,320.0 340.0,316.0 346.0,312.0 350.0,306.0 352.0,300.0" fill="none" stroke="#2a1a0a" stroke-width="0.5" stroke-linejoin="round" opacity="0.85"/>
<polyline points="301.0,328.0 306.0,334.0 312.0,340.0 316.0,344.0 322.0,348.0" fill="none" stroke="#2a1a0a" stroke-width="0.5" stroke-linejoin="round" opacity="0.85"/>
<polyline points="334.0,326.0 340.0,330.0 348.0,334.0 356.0,340.0 362.0,344.0 366.0,339.0 372.0,335.0 380.0,334.0 390.0,335.0" fill="none" stroke="#2a1a0a" stroke-width="0.5" stroke-linejoin="round" opacity="0.85"/>
<polyline points="135.0,331.7 141.7,327.5 145.0,330.0 150.0,333.3 156.7,338.3 163.3,341.7 168.3,345.8 173.3,343.3 178.3,340.0 183.3,341.7" fill="none" stroke="#2a1a0a" stroke-width="0.5" stroke-linejoin="round" opacity="0.85"/>
<polyline points="123.3,338.3 125.8,345.0 130.0,350.8 135.0,354.2 141.7,355.0 145.8,356.7 147.5,361.7" fill="none" stroke="#2a1a0a" stroke-width="0.5" stroke-linejoin="round" opacity="0.85"/>
<polyline points="147.5,361.7 153.3,360.8 158.3,357.5 163.3,355.8 167.5,352.5 168.3,345.8" fill="none" stroke="#2a1a0a" stroke-width="0.5" stroke-linejoin="round" opacity="0.85"/>
<polyline points="167.5,352.5 173.3,355.8 180.0,355.0 185.0,356.7 190.0,354.2 195.0,356.7 201.7,355.0 206.7,360.0" fill="none" stroke="#2a1a0a" stroke-width="0.5" stroke-linejoin="round" opacity="0.85"/>
<polyline points="147.5,361.7 146.7,368.3 148.3,373.3 146.7,379.2 148.3,385.0 151.7,390.0 153.3,393.3" fill="none" stroke="#2a1a0a" stroke-width="0.5" stroke-linejoin="round" opacity="0.85"/>
<polyline points="116.7,361.7 123.3,365.0 125.8,370.0 131.7,371.7 138.3,370.8 146.7,368.3" fill="none" stroke="#2a1a0a" stroke-width="0.5" stroke-linejoin="round" opacity="0.85"/>
<polyline points="158.3,357.5 160.0,365.0 163.3,370.0 161.7,375.0 164.2,380.0 168.3,383.3 173.3,386.7 176.7,391.7 174.2,396.7 171.7,401.7 170.8,408.3 170.0,415.0" fill="none" stroke="#2a1a0a" stroke-width="0.5" stroke-linejoin="round" opacity="0.85"/>
<polyline points="180.0,355.0 178.3,361.7 180.8,368.3 178.3,375.0 180.8,381.7 185.0,385.0 190.0,386.7" fill="none" stroke="#2a1a0a" stroke-width="0.5" stroke-linejoin="round" opacity="0.85"/>
<polyline points="183.3,341.7 185.0,335.0 188.3,330.0 186.7,323.3 190.0,318.3" fill="none" stroke="#2a1a0a" stroke-width="0.5" stroke-linejoin="round" opacity="0.85"/>
<polyline points="228.3,328.3 233.3,333.3 238.3,340.0 243.3,344.2 246.7,341.7 250.0,343.3 249.2,348.3 251.7,355.0 248.3,360.0 245.0,363.3 241.7,366.7 238.3,370.0 235.0,373.3" fill="none" stroke="#2a1a0a" stroke-width="0.5" stroke-linejoin="round" opacity="0.85"/>
<polyline points="250.0,340.0 256.7,338.3 263.3,339.2 266.7,343.3 268.3,348.3 273.3,350.8 276.0,344.0" fill="none" stroke="#2a1a0a" stroke-width="0.5" stroke-linejoin="round" opacity="0.85"/>
<polyline points="220.0,345.8 221.7,350.0 220.8,355.0 223.3,358.3 224.2,363.3 228.3,366.7 235.0,373.3 237.5,378.3 241.7,381.7 243.3,386.7 241.7,390.0" fill="none" stroke="#2a1a0a" stroke-width="0.5" stroke-linejoin="round" opacity="0.85"/>
<polyline points="207.5,350.8 210.0,355.0 208.3,360.0 212.5,364.2 218.3,365.0 224.2,363.3" fill="none" stroke="#2a1a0a" stroke-width="0.5" stroke-linejoin="round" opacity="0.85"/>
<polyline points="212.5,364.2 213.3,370.0 218.3,371.7 223.3,370.0 228.3,372.5 233.3,371.7 235.0,373.3" fill="none" stroke="#2a1a0a" stroke-width="0.5" stroke-linejoin="round" opacity="0.85"/>
<polyline points="213.3,370.0 211.7,376.7 213.3,381.7 218.3,385.0 221.7,388.3 220.0,393.3" fill="none" stroke="#2a1a0a" stroke-width="0.5" stroke-linejoin="round" opacity="0.85"/>
<polyline points="241.7,390.0 246.7,388.3 251.7,385.0 254.2,379.2 258.3,375.0 263.3,376.7 270.0,378.3 275.0,381.7 280.0,380.0" fill="none" stroke="#2a1a0a" stroke-width="0.5" stroke-linejoin="round" opacity="0.85"/>
<polyline points="220.0,393.3 223.3,398.3 221.7,403.3 226.7,406.7 231.7,405.0 235.0,398.3 237.5,393.3 241.7,390.0" fill="none" stroke="#2a1a0a" stroke-width="0.5" stroke-linejoin="round" opacity="0.85"/>
<polyline points="215.0,405.0 215.8,411.7 215.0,418.0 218.0,430.0 226.0,436.0" fill="none" stroke="#2a1a0a" stroke-width="0.5" stroke-linejoin="round" opacity="0.85"/>
<polyline points="221.7,403.3 217.5,405.8 215.0,405.0 210.0,401.7 205.0,398.3 200.8,396.7" fill="none" stroke="#2a1a0a" stroke-width="0.5" stroke-linejoin="round" opacity="0.85"/>
<polyline points="195.0,356.7 196.7,363.3 195.0,370.0 198.3,376.7 196.7,383.3 200.8,388.3 205.0,390.0 209.2,388.3 213.3,381.7" fill="none" stroke="#2a1a0a" stroke-width="0.5" stroke-linejoin="round" opacity="0.85"/>
<polyline points="254.2,379.2 255.0,386.7 258.3,393.3 256.7,400.0 253.3,406.7 251.7,415.0 250.0,425.0 245.0,434.0" fill="none" stroke="#2a1a0a" stroke-width="0.5" stroke-linejoin="round" opacity="0.85"/>
<polyline points="273.3,350.8 271.7,358.3 273.3,365.0 270.8,371.7 275.0,381.7" fill="none" stroke="#2a1a0a" stroke-width="0.5" stroke-linejoin="round" opacity="0.85"/>
<polyline points="188.3,335.0 193.3,338.3 200.0,337.5 205.0,340.0 210.0,338.3 215.0,340.0 220.0,345.8" fill="none" stroke="#2a1a0a" stroke-width="0.5" stroke-linejoin="round" opacity="0.85"/>
<polyline points="188.3,325.0 190.0,331.7 188.3,338.3 190.0,345.0 186.7,350.0 185.0,355.8" fill="none" stroke="#2a1a0a" stroke-width="0.5" stroke-linejoin="round" opacity="0.85"/>
<polyline points="200.8,333.3 203.3,338.3 206.7,340.0 210.0,331.7 215.0,326.7 220.0,325.0 225.0,321.7 228.3,328.3" fill="none" stroke="#2a1a0a" stroke-width="0.5" stroke-linejoin="round" opacity="0.85"/>
<polyline points="334.0,315.0 333.0,323.0 336.0,330.0 334.0,337.0 330.0,341.0 323.0,343.0 319.0,347.0 320.0,351.0 317.0,355.0 315.0,363.0 308.0,365.0 305.0,363.0" fill="none" stroke="#2a1a0a" stroke-width="0.5" stroke-linejoin="round" opacity="0.85"/>
<polyline points="312.0,315.0 311.0,323.0 313.0,331.0 312.0,339.0 317.0,343.0 319.0,347.0" fill="none" stroke="#2a1a0a" stroke-width="0.5" stroke-linejoin="round" opacity="0.85"/>
<polyline points="317.0,355.0 324.0,354.0 330.0,357.0 336.0,360.0 339.0,364.0 338.0,368.0 344.0,371.0 352.0,370.0 350.0,364.0 348.0,359.0 354.0,356.0 360.0,360.0 363.0,365.0 368.0,370.0 372.0,375.0 376.0,383.0 377.0,389.0 384.0,392.0 390.0,395.0 398.0,395.0 406.0,398.0" fill="none" stroke="#2a1a0a" stroke-width="0.5" stroke-linejoin="round" opacity="0.85"/>
<polyline points="315.0,363.0 320.0,369.0 328.0,373.0 336.0,375.0 340.0,379.0 338.0,385.0 342.0,391.0 347.0,399.0 350.0,405.0 352.0,411.0" fill="none" stroke="#2a1a0a" stroke-width="0.5" stroke-linejoin="round" opacity="0.85"/>
<polyline points="290.0,392.0 296.0,389.0 302.0,387.0 300.0,379.0 302.0,369.0 308.0,365.0" fill="none" stroke="#2a1a0a" stroke-width="0.5" stroke-linejoin="round" opacity="0.85"/>
<polyline points="292.0,395.0 296.0,403.0 300.0,409.0 304.0,415.0 308.0,423.0 314.0,429.0" fill="none" stroke="#2a1a0a" stroke-width="0.5" stroke-linejoin="round" opacity="0.85"/>
<polyline points="270.0,369.0 278.0,367.0 284.0,363.0 290.0,361.0 296.0,364.0 302.0,369.0" fill="none" stroke="#2a1a0a" stroke-width="0.5" stroke-linejoin="round" opacity="0.85"/>
<polyline points="276.0,344.0 278.0,351.0 279.0,358.0 278.0,367.0" fill="none" stroke="#2a1a0a" stroke-width="0.5" stroke-linejoin="round" opacity="0.85"/>
<polyline points="270.0,384.0 278.0,385.0 283.0,389.0 280.0,395.0 274.0,399.0 270.0,403.0 262.0,408.0 256.7,400.0" fill="none" stroke="#2a1a0a" stroke-width="0.5" stroke-linejoin="round" opacity="0.85"/>
<polyline points="336.0,330.0 344.0,332.0 352.0,336.0 356.0,343.0 362.0,345.0 366.0,339.0" fill="none" stroke="#2a1a0a" stroke-width="0.5" stroke-linejoin="round" opacity="0.85"/>
<polyline points="362.0,345.0 361.0,353.0 360.0,360.0" fill="none" stroke="#2a1a0a" stroke-width="0.5" stroke-linejoin="round" opacity="0.85"/>
<polyline points="370.0,337.0 376.0,338.0 382.0,344.0 386.0,338.0 390.0,333.0 398.0,332.0 406.0,333.0 416.0,334.0 420.0,327.0 425.0,323.0 428.0,316.0" fill="none" stroke="#2a1a0a" stroke-width="0.5" stroke-linejoin="round" opacity="0.85"/>
<polyline points="398.0,332.0 394.0,340.0 396.0,348.0 394.0,356.0 395.0,364.0 400.0,369.0 406.0,372.0 414.0,374.0 422.0,378.0 426.0,382.0" fill="none" stroke="#2a1a0a" stroke-width="0.5" stroke-linejoin="round" opacity="0.85"/>
<polyline points="370.0,374.0 376.0,376.0 378.0,384.0 384.0,390.0 390.0,394.0" fill="none" stroke="#2a1a0a" stroke-width="0.5" stroke-linejoin="round" opacity="0.85"/>
<polyline points="74.0,314.0 75.0,321.0 74.0,327.5" fill="none" stroke="#2a1a0a" stroke-width="0.5" stroke-linejoin="round" opacity="0.85"/>
<polyline points="82.5,312.5 87.5,319.0 95.0,322.5 102.5,320.0 104.0,325.0" fill="none" stroke="#2a1a0a" stroke-width="0.5" stroke-linejoin="round" opacity="0.85"/>
<polyline points="112.5,337.5 117.5,342.5 116.0,350.0 121.0,355.0" fill="none" stroke="#2a1a0a" stroke-width="0.5" stroke-linejoin="round" opacity="0.85"/>
<polyline points="104.0,325.0 108.0,330.0 112.5,337.5" fill="none" stroke="#2a1a0a" stroke-width="0.5" stroke-linejoin="round" opacity="0.85"/>
<polyline points="100.0,310.0 104.0,316.0 110.0,318.0 116.0,325.0" fill="none" stroke="#2a1a0a" stroke-width="0.5" stroke-linejoin="round" opacity="0.85"/>
<polyline points="177.7,300.0 178.3,305.3 182.3,309.3 187.0,313.3 189.7,317.3 190.3,322.7 189.0,326.7 187.0,332.0 185.0,337.3 183.7,341.3 180.3,344.0 175.7,346.0 170.3,348.0 165.0,350.7" fill="none" stroke="#2a1a0a" stroke-width="0.5" stroke-linejoin="round" opacity="0.85"/>
<polyline points="189.7,317.3 193.0,313.3 197.0,312.0 199.7,314.7 201.0,320.0 200.3,325.3 198.3,329.3 197.7,333.3 201.0,336.0 203.7,338.7 207.7,337.3 211.0,334.7 213.7,332.0 217.0,328.0 219.7,324.0 221.0,320.0 222.3,314.7 223.7,310.7 225.0,306.7 227.7,304.0 234.3,303.3 245.0,304.0" fill="none" stroke="#2a1a0a" stroke-width="0.5" stroke-linejoin="round" opacity="0.85"/>
<polyline points="198.3,329.3 203.7,328.7 207.7,326.7 211.7,324.0 214.3,320.0 215.7,316.0" fill="none" stroke="#2a1a0a" stroke-width="0.5" stroke-linejoin="round" opacity="0.85"/>
<polyline points="189.0,346.0 193.7,345.3 198.3,346.0 203.0,344.0 205.0,346.7 203.7,352.0 205.0,356.0 209.0,358.7 211.7,362.7 213.0,366.7" fill="none" stroke="#2a1a0a" stroke-width="0.5" stroke-linejoin="round" opacity="0.85"/>
<polyline points="183.7,341.3 185.0,346.7 183.7,352.0 181.0,356.0 182.3,361.3 179.7,365.3 178.3,370.7 179.7,376.0 178.3,380.0" fill="none" stroke="#2a1a0a" stroke-width="0.5" stroke-linejoin="round" opacity="0.85"/>
<polyline points="181.0,356.0 186.3,358.7 191.7,360.0 197.0,358.7 203.7,360.0 209.0,358.7" fill="none" stroke="#2a1a0a" stroke-width="0.5" stroke-linejoin="round" opacity="0.85"/>
<polyline points="165.0,358.7 170.3,357.3 175.7,358.7 181.0,356.0" fill="none" stroke="#2a1a0a" stroke-width="0.5" stroke-linejoin="round" opacity="0.85"/>
<polyline points="203.7,360.0 204.3,365.3 202.3,370.7 203.7,376.0 202.3,380.0 204.0,386.0" fill="none" stroke="#2a1a0a" stroke-width="0.5" stroke-linejoin="round" opacity="0.85"/>
<polyline points="213.0,366.7 218.3,368.0 223.7,366.7 229.0,369.3 234.3,368.0 239.7,364.0 245.0,362.7" fill="none" stroke="#2a1a0a" stroke-width="0.5" stroke-linejoin="round" opacity="0.85"/>
<polyline points="223.7,340.0 227.7,342.7 234.3,341.3 239.7,344.0 245.0,341.3" fill="none" stroke="#2a1a0a" stroke-width="0.5" stroke-linejoin="round" opacity="0.85"/>
<polyline points="209.0,344.7 213.0,349.3 218.3,350.7 222.3,353.3 223.7,358.7 221.0,362.7 223.7,366.7" fill="none" stroke="#2a1a0a" stroke-width="0.5" stroke-linejoin="round" opacity="0.85"/>
<polyline points="176.0,391.0 180.0,388.0 184.0,390.0 188.0,387.0 192.0,390.0 196.0,388.0" fill="none" stroke="#2a1a0a" stroke-width="0.5" stroke-linejoin="round" opacity="0.85"/>
<polyline points="180.0,388.0 181.0,394.0 186.0,396.0 190.0,400.0 196.0,398.0 200.8,396.7" fill="none" stroke="#2a1a0a" stroke-width="0.5" stroke-linejoin="round" opacity="0.85"/>
<polyline points="186.0,396.0 184.0,402.0 186.0,408.0 184.0,414.0" fill="none" stroke="#2a1a0a" stroke-width="0.5" stroke-linejoin="round" opacity="0.85"/>
<polyline points="240.0,150.0 241.0,158.0 239.0,165.0" fill="none" stroke="#2a1a0a" stroke-width="0.5" stroke-linejoin="round" opacity="0.85"/>
<polyline points="222.0,145.0 224.0,152.0 228.0,158.0 232.5,164.0" fill="none" stroke="#2a1a0a" stroke-width="0.5" stroke-linejoin="round" opacity="0.85"/>
<polyline points="200.0,171.0 203.0,176.0 208.0,178.0 211.0,184.0 211.0,190.0" fill="none" stroke="#2a1a0a" stroke-width="0.5" stroke-linejoin="round" opacity="0.85"/>
<ellipse cx="224.7" cy="295.8" rx="4.7" ry="4.2" fill="none" stroke="#3a2a1a" stroke-width="0.45" opacity="0.8"/>
<polygon points="160.0,149.0 164.0,146.0 176.0,145.0 183.0,142.0 190.0,141.0 194.0,137.0 198.0,133.0 203.0,134.0 207.0,138.0 212.0,142.0 216.0,143.0 227.0,143.0 232.0,140.0 235.0,138.0 238.0,142.0 242.0,141.0 246.0,137.0 249.0,139.0 251.0,143.0 258.0,144.0 265.0,144.0 272.0,145.0 282.0,155.0 292.0,165.0 302.0,174.0 310.0,181.0 316.0,187.0 322.0,194.0 325.0,199.0 320.0,208.0 315.0,215.0 310.0,221.0 307.5,228.0 308.0,235.0 307.5,241.0 323.0,240.5 340.0,240.0 341.0,243.0 337.0,246.0 335.5,252.0 337.0,258.0 341.0,265.0 345.0,270.0 352.5,280.0 362.5,287.5 372.5,296.0 390.0,302.5 407.5,309.0 427.5,316.0 447.5,322.5 465.0,324.5 482.5,324.5 476.0,332.0 465.0,341.0 452.5,354.0 440.0,366.0 427.5,379.0 415.0,391.0 405.0,402.5 399.0,411.0 385.0,410.5 370.0,410.0 362.5,411.0 352.5,414.0 345.0,417.5 340.0,424.0 335.0,427.5 325.0,430.0 316.0,432.5 312.5,436.0 300.0,437.5 290.0,437.5 285.0,434.0 280.0,430.0 275.0,430.0 270.0,432.5 262.5,437.5 255.0,442.5 250.0,447.5 245.0,452.5 237.5,452.5 230.0,450.5 215.0,449.0 205.0,446.0 197.5,440.0 190.0,435.0 180.0,430.0 172.5,426.0 165.0,424.5 155.0,424.5 146.0,425.0 144.0,422.5 142.5,415.0 140.0,405.0 139.0,396.0 127.5,396.0 124.0,392.5 120.0,386.0 116.0,377.5 112.5,367.5 105.0,360.0 97.5,352.5 92.5,345.0 87.5,336.0 81.0,331.0 74.0,327.5 64.0,327.5 61.0,322.5 64.0,316.0 67.5,312.5 77.5,312.5 87.5,311.0 92.5,307.5 94.0,300.0 95.0,287.5 94.0,277.5 95.0,270.0 97.5,262.5 99.0,250.0 103.0,247.0 116.0,247.0 118.0,242.0 117.0,234.0 120.0,230.0 119.0,224.0 121.0,217.0 128.0,210.0 133.0,201.0 137.0,196.0 144.0,190.0 150.0,183.0 153.0,173.0 157.0,169.0 159.0,160.0 160.0,152.0" fill="none" stroke="#aaa" stroke-width="0.7" stroke-linejoin="round"/>
<text x="203.0" y="155.0" font-size="5.4" text-anchor="middle" fill="#000" stroke="#000" stroke-width="0.1">N.Western</text>
<text x="176.4" y="163.0" font-size="5.4" text-anchor="middle" fill="#000" stroke="#000" stroke-width="0.1">Western</text>
<text x="225.6" y="158.0" font-size="5.4" text-anchor="middle" fill="#000" stroke="#000" stroke-width="0.1">Cent.T</text>
<text x="246.0" y="156.0" font-size="5.4" text-anchor="middle" fill="#000" stroke="#000" stroke-width="0.1">Eastern</text>
<text x="243.0" y="171.4" font-size="5.4" text-anchor="middle" fill="#000" stroke="#000" stroke-width="0.1">Mekelle</text>
<text x="241.6" y="179.0" font-size="5.4" text-anchor="middle" fill="#000" stroke="#000" stroke-width="0.1">S.Eastern</text>
<text x="203.0" y="180.0" font-size="5.4" text-anchor="middle" fill="#000" stroke="#000" stroke-width="0.1">N.Gondar</text>
<text x="224.4" y="193.6" font-size="5.4" text-anchor="middle" fill="#000" stroke="#000" stroke-width="0.1">WagHamra</text>
<text x="245.0" y="196.0" font-size="5.4" text-anchor="middle" fill="#000" stroke="#000" stroke-width="0.1">S.Tigray</text>
<text x="183.0" y="197.0" font-size="5.4" text-anchor="middle" fill="#000" stroke="#000" stroke-width="0.1">C.Gondar</text>
<text x="156.0" y="199.0" font-size="5.4" text-anchor="middle" fill="#000" stroke="#000" stroke-width="0.1">W.Gondar</text>
<text x="236.0" y="217.0" font-size="5.4" text-anchor="middle" fill="#000" stroke="#000" stroke-width="0.1">N.Wello</text>
<text x="205.0" y="221.6" font-size="5.4" text-anchor="middle" fill="#000" stroke="#000" stroke-width="0.1">S.Gondar</text>
<text x="161.0" y="237.0" font-size="5.4" text-anchor="middle" fill="#000" stroke="#000" stroke-width="0.1">Awi</text>
<text x="178.0" y="240.0" font-size="5.4" text-anchor="middle" fill="#000" stroke="#000" stroke-width="0.1">W.Gojam</text>
<text x="235.0" y="242.4" font-size="5.4" text-anchor="middle" fill="#000" stroke="#000" stroke-width="0.1">South Wello</text>
<text x="258.0" y="250.0" font-size="5.4" text-anchor="middle" fill="#000" stroke="#000" stroke-width="0.1">Oromia</text>
<text x="276.5" y="173.5" font-size="5.4" text-anchor="middle" fill="#000" stroke="#000" stroke-width="0.1">Kilbati</text>
<text x="266.0" y="204.5" font-size="5.4" text-anchor="middle" fill="#000" stroke="#000" stroke-width="0.1">Fanti</text>
<text x="294.0" y="218.0" font-size="5.4" text-anchor="middle" fill="#000" stroke="#000" stroke-width="0.1">Awsi /Zone 1</text>
<text x="309.0" y="263.0" font-size="5.4" text-anchor="middle" fill="#000" stroke="#000" stroke-width="0.1">Siti</text>
<text x="266.0" y="259.0" font-size="5.4" text-anchor="middle" fill="#000" stroke="#000" stroke-width="0.1">Hari</text>
<text x="139.0" y="242.0" font-size="5.4" text-anchor="middle" fill="#000" stroke="#000" stroke-width="0.1">Metekel</text>
<text x="110.0" y="264.0" font-size="5.4" text-anchor="middle" fill="#000" stroke="#000" stroke-width="0.1">Assosa</text>
<text x="139.0" y="273.0" font-size="5.4" text-anchor="middle" fill="#000" stroke="#000" stroke-width="0.1">Kamashi</text>
<text x="97.5" y="289.0" font-size="5.4" text-anchor="middle" fill="#000" stroke="#000" stroke-width="0.1">M.Komo</text>
<text x="126.0" y="289.0" font-size="5.4" text-anchor="middle" fill="#000" stroke="#000" stroke-width="0.1">W.Wellega</text>
<text x="163.0" y="286.4" font-size="5.4" text-anchor="middle" fill="#000" stroke="#000" stroke-width="0.1">E.Wellega</text>
<text x="112.0" y="303.0" font-size="5.4" text-anchor="middle" fill="#000" stroke="#000" stroke-width="0.1">K.Wellega</text>
<text x="179.0" y="279.0" font-size="5.4" text-anchor="middle" fill="#000" stroke="#000" stroke-width="0.1">Horo</text>
<text x="200.0" y="256.0" font-size="5.4" text-anchor="middle" fill="#000" stroke="#000" stroke-width="0.1">E.Gojam</text>
<text x="197.0" y="293.6" font-size="5.4" text-anchor="middle" fill="#000" stroke="#000" stroke-width="0.1">W.Shewa</text>
<text x="154.4" y="313.0" font-size="5.4" text-anchor="middle" fill="#000" stroke="#000" stroke-width="0.1">B.Bedele</text>
<text x="130.4" y="319.4" font-size="5.4" text-anchor="middle" fill="#000" stroke="#000" stroke-width="0.1">Ilu</text>
<text x="169.0" y="329.6" font-size="5.4" text-anchor="middle" fill="#000" stroke="#000" stroke-width="0.1">Jimma</text>
<text x="147.4" y="348.4" font-size="5.4" text-anchor="middle" fill="#000" stroke="#000" stroke-width="0.1">Kefa</text>
<text x="187.0" y="331.4" font-size="5.4" text-anchor="middle" fill="#000" stroke="#000" stroke-width="0.1">Yem</text>
<text x="203.0" y="310.4" font-size="5.4" text-anchor="middle" fill="#000" stroke="#000" stroke-width="0.1">SW.Shewa</text>
<text x="203.0" y="321.4" font-size="5.4" text-anchor="middle" fill="#000" stroke="#000" stroke-width="0.1">Guraghe</text>
<text x="221.0" y="276.0" font-size="5.4" text-anchor="middle" fill="#000" stroke="#000" stroke-width="0.1">NSH(OR)</text>
<text x="244.0" y="275.6" font-size="5.4" text-anchor="middle" fill="#000" stroke="#000" stroke-width="0.1">NSH(AM)</text>
<text x="223.6" y="298.6" font-size="5.4" text-anchor="middle" fill="#000" stroke="#000" stroke-width="0.1">A.A</text>
<text x="234.4" y="312.6" font-size="5.4" text-anchor="middle" fill="#000" stroke="#000" stroke-width="0.1">E.Shewa</text>
<text x="278.0" y="307.0" font-size="5.4" text-anchor="middle" fill="#000" stroke="#000" stroke-width="0.1">W.Hararge</text>
<text x="249.0" y="328.4" font-size="5.4" text-anchor="middle" fill="#000" stroke="#000" stroke-width="0.1">Arsi</text>
<text x="229.0" y="352.6" font-size="5.4" text-anchor="middle" fill="#000" stroke="#000" stroke-width="0.1">W.Arsi</text>
<text x="204.0" y="331.6" font-size="5.4" text-anchor="middle" fill="#000" stroke="#000" stroke-width="0.1">Silte</text>
<text x="193.0" y="340.0" font-size="5.4" text-anchor="middle" fill="#000" stroke="#000" stroke-width="0.1">Had</text>
<text x="206.0" y="340.6" font-size="5.4" text-anchor="middle" fill="#000" stroke="#000" stroke-width="0.1">Hal</text>
<text x="194.0" y="346.0" font-size="5.4" text-anchor="middle" fill="#000" stroke="#000" stroke-width="0.1">Kemb</text>
<text x="195.0" y="357.6" font-size="5.4" text-anchor="middle" fill="#000" stroke="#000" stroke-width="0.1">Wolayita</text>
<text x="174.0" y="355.6" font-size="5.4" text-anchor="middle" fill="#000" stroke="#000" stroke-width="0.1">Dawuro</text>
<text x="161.0" y="358.0" font-size="5.4" text-anchor="middle" fill="#000" stroke="#000" stroke-width="0.1">Konta</text>
<text x="127.5" y="357.0" font-size="5.4" text-anchor="middle" fill="#000" stroke="#000" stroke-width="0.1">Bench Sheko</text>
<text x="132.5" y="378.8" font-size="5.4" text-anchor="middle" fill="#000" stroke="#000" stroke-width="0.1">Mirab Omo</text>
<text x="157.5" y="375.0" font-size="5.4" text-anchor="middle" fill="#000" stroke="#000" stroke-width="0.1">Basketo</text>
<text x="170.0" y="372.0" font-size="5.4" text-anchor="middle" fill="#000" stroke="#000" stroke-width="0.1">Gofa</text>
<text x="185.5" y="377.8" font-size="5.4" text-anchor="middle" fill="#000" stroke="#000" stroke-width="0.1">Gamo</text>
<text x="209.5" y="378.8" font-size="5.4" text-anchor="middle" fill="#000" stroke="#000" stroke-width="0.1">Gedeo</text>
<text x="195.0" y="389.0" font-size="5.4" text-anchor="middle" fill="#000" stroke="#000" stroke-width="0.1">Amaro</text>
<text x="207.0" y="390.0" font-size="5.4" text-anchor="middle" fill="#000" stroke="#000" stroke-width="0.1">W.Guji</text>
<text x="176.0" y="393.8" font-size="5.4" text-anchor="middle" fill="#000" stroke="#000" stroke-width="0.1">Ale</text>
<text x="186.0" y="392.0" font-size="5.4" text-anchor="middle" fill="#000" stroke="#000" stroke-width="0.1">Derashe</text>
<text x="184.0" y="400.0" font-size="5.4" text-anchor="middle" fill="#000" stroke="#000" stroke-width="0.1">Konso</text>
<text x="196.0" y="397.5" font-size="5.4" text-anchor="middle" fill="#000" stroke="#000" stroke-width="0.1">Burji</text>
<text x="155.5" y="400.0" font-size="5.4" text-anchor="middle" fill="#000" stroke="#000" stroke-width="0.1">S.Omo</text>
<text x="209.5" y="426.2" font-size="5.4" text-anchor="middle" fill="#000" stroke="#000" stroke-width="0.1">Borena</text>
<text x="235.0" y="394.4" font-size="5.4" text-anchor="middle" fill="#000" stroke="#000" stroke-width="0.1">Guji</text>
<text x="217.6" y="364.0" font-size="5.4" text-anchor="middle" fill="#000" stroke="#000" stroke-width="0.1">Sidama</text>
<text x="261.0" y="373.0" font-size="5.4" text-anchor="middle" fill="#000" stroke="#000" stroke-width="0.1">Bale</text>
<text x="285.0" y="408.0" font-size="5.4" text-anchor="middle" fill="#000" stroke="#000" stroke-width="0.1">Liban</text>
<text x="257.0" y="433.4" font-size="5.4" text-anchor="middle" fill="#000" stroke="#000" stroke-width="0.1">Daawa</text>
<text x="293.8" y="348.2" font-size="5.4" text-anchor="middle" fill="#000" stroke="#000" stroke-width="0.1">E.Bale</text>
<text x="322.5" y="402.0" font-size="5.4" text-anchor="middle" fill="#000" stroke="#000" stroke-width="0.1">Afder</text>
<text x="360.5" y="388.8" font-size="5.4" text-anchor="middle" fill="#000" stroke="#000" stroke-width="0.1">Shabelle</text>
<text x="342.0" y="350.8" font-size="5.4" text-anchor="middle" fill="#000" stroke="#000" stroke-width="0.1">Nogob</text>
<text x="322.4" y="330.0" font-size="5.4" text-anchor="middle" fill="#000" stroke="#000" stroke-width="0.1">Erer</text>
<text x="314.0" y="302.6" font-size="5.4" text-anchor="middle" fill="#000" stroke="#000" stroke-width="0.1">E.Hararge</text>
<text x="319.0" y="290.6" font-size="5.4" text-anchor="middle" fill="#000" stroke="#000" stroke-width="0.1">Harari</text>
<text x="309.4" y="281.0" font-size="5.4" text-anchor="middle" fill="#000" stroke="#000" stroke-width="0.1">D.D</text>
<text x="348.6" y="294.6" font-size="5.4" text-anchor="middle" fill="#000" stroke="#000" stroke-width="0.1">Fafan</text>
<text x="379.0" y="323.0" font-size="5.4" text-anchor="middle" fill="#000" stroke="#000" stroke-width="0.1">Jarar</text>
<text x="388.0" y="370.0" font-size="5.4" text-anchor="middle" fill="#000" stroke="#000" stroke-width="0.1">Korahe</text>
<text x="430.0" y="348.0" font-size="5.4" text-anchor="middle" fill="#000" stroke="#000" stroke-width="0.1">Doolo</text>
<text x="104.0" y="339.5" font-size="5.4" text-anchor="middle" fill="#000" stroke="#000" stroke-width="0.1">Agnewak</text>
<text x="74.0" y="322.5" font-size="5.4" text-anchor="middle" fill="#000" stroke="#000" stroke-width="0.1">Nuwer</text>
<text x="95.5" y="317.5" font-size="5.4" text-anchor="middle" fill="#000" stroke="#000" stroke-width="0.1">Itang</text>
<text x="121.0" y="342.5" font-size="5.4" text-anchor="middle" fill="#000" stroke="#000" stroke-width="0.1">Mj</text>
<text x="129.5" y="340.0" font-size="5.4" text-anchor="middle" fill="#000" stroke="#000" stroke-width="0.1">Sheka</text>
</g>
<rect x="55.6" y="126.5" width="433.4" height="332.5" fill="none" stroke="#222" stroke-width="0.8"/>
<line x1="46.400000000000006" y1="437.0" x2="55.6" y2="437.0" stroke="#222" stroke-width="0.8"/>
<text x="39" y="441.3" font-size="12.3" text-anchor="end" fill="#000">4°N</text>
<line x1="46.400000000000006" y1="380.8" x2="55.6" y2="380.8" stroke="#222" stroke-width="0.8"/>
<text x="39" y="385.1" font-size="12.3" text-anchor="end" fill="#000">6°N</text>
<line x1="46.400000000000006" y1="324.6" x2="55.6" y2="324.6" stroke="#222" stroke-width="0.8"/>
<text x="39" y="328.9" font-size="12.3" text-anchor="end" fill="#000">8°N</text>
<line x1="46.400000000000006" y1="268.4" x2="55.6" y2="268.4" stroke="#222" stroke-width="0.8"/>
<text x="39" y="272.7" font-size="12.3" text-anchor="end" fill="#000">10°N</text>
<line x1="46.400000000000006" y1="212.2" x2="55.6" y2="212.2" stroke="#222" stroke-width="0.8"/>
<text x="39" y="216.5" font-size="12.3" text-anchor="end" fill="#000">12°N</text>
<line x1="46.400000000000006" y1="156.0" x2="55.6" y2="156.0" stroke="#222" stroke-width="0.8"/>
<text x="39" y="160.3" font-size="12.3" text-anchor="end" fill="#000">14°N</text>
<line x1="89.5" y1="459" x2="89.5" y2="468.2" stroke="#222" stroke-width="0.8"/>
<text x="89.5" y="486.6" font-size="12.3" text-anchor="middle" fill="#000">34°E</text>
<line x1="145.7" y1="459" x2="145.7" y2="468.2" stroke="#222" stroke-width="0.8"/>
<text x="145.7" y="486.6" font-size="12.3" text-anchor="middle" fill="#000">36°E</text>
<line x1="201.9" y1="459" x2="201.9" y2="468.2" stroke="#222" stroke-width="0.8"/>
<text x="201.9" y="486.6" font-size="12.3" text-anchor="middle" fill="#000">38°E</text>
<line x1="258.1" y1="459" x2="258.1" y2="468.2" stroke="#222" stroke-width="0.8"/>
<text x="258.1" y="486.6" font-size="12.3" text-anchor="middle" fill="#000">40°E</text>
<line x1="314.3" y1="459" x2="314.3" y2="468.2" stroke="#222" stroke-width="0.8"/>
<text x="314.3" y="486.6" font-size="12.3" text-anchor="middle" fill="#000">42°E</text>
<line x1="370.5" y1="459" x2="370.5" y2="468.2" stroke="#222" stroke-width="0.8"/>
<text x="370.5" y="486.6" font-size="12.3" text-anchor="middle" fill="#000">44°E</text>
<line x1="426.70000000000005" y1="459" x2="426.70000000000005" y2="468.2" stroke="#222" stroke-width="0.8"/>
<text x="426.7" y="486.6" font-size="12.3" text-anchor="middle" fill="#000">46°E</text>
<line x1="482.90000000000003" y1="459" x2="482.90000000000003" y2="468.2" stroke="#222" stroke-width="0.8"/>
<text x="482.9" y="486.6" font-size="12.3" text-anchor="middle" fill="#000">48°E</text>
<text x="57.5" y="124" font-size="18.3" font-weight="bold" fill="#000">Daily minimum temperature (C) for 18-19 Apr 2026</text>
<rect x="520.2" y="131.00" width="25.4" height="40.5" fill="#FFB3B6" stroke="#333" stroke-width="0.5"/>
<rect x="520.2" y="171.50" width="25.4" height="40.5" fill="#EB0000" stroke="#333" stroke-width="0.5"/>
<rect x="520.2" y="212.00" width="25.4" height="40.5" fill="#FF8C00" stroke="#333" stroke-width="0.5"/>
<rect x="520.2" y="252.50" width="25.4" height="40.5" fill="#FFE64D" stroke="#333" stroke-width="0.5"/>
<rect x="520.2" y="293.00" width="25.4" height="40.5" fill="#9BD2EE" stroke="#333" stroke-width="0.5"/>
<rect x="520.2" y="333.50" width="25.4" height="40.5" fill="#14A0FF" stroke="#333" stroke-width="0.5"/>
<rect x="520.2" y="374.00" width="25.4" height="40.5" fill="#3250E6" stroke="#333" stroke-width="0.5"/>
<rect x="520.2" y="414.50" width="25.4" height="40.5" fill="#7D1EEB" stroke="#333" stroke-width="0.5"/>
<text x="561.5" y="176.7" font-size="14.5" text-anchor="middle" fill="#000">25</text>
<text x="561.5" y="217.2" font-size="14.5" text-anchor="middle" fill="#000">21</text>
<text x="561.5" y="257.7" font-size="14.5" text-anchor="middle" fill="#000">17</text>
<text x="561.5" y="298.2" font-size="14.5" text-anchor="middle" fill="#000">13</text>
<text x="561.5" y="338.7" font-size="14.5" text-anchor="middle" fill="#000">9</text>
<text x="561.5" y="379.2" font-size="14.5" text-anchor="middle" fill="#000">5</text>
<text x="561.5" y="419.7" font-size="14.5" text-anchor="middle" fill="#000">1</text>
<g>
<rect x="420" y="147" width="58" height="47" fill="#fff"/>
<path id="lgarc" d="M428.3,179.7 A20.3 20.3 0 1 1 468.3,179.7" fill="none" stroke="none"/>
<path d="M422.8,182.3 A26.3 26.3 0 1 1 473.8,182.3" fill="none" stroke="#2479e0" stroke-width="1.1"/>
<text font-size="5.2" font-weight="bold" fill="#1d2f7a" font-family="'Liberation Sans','Noto Sans CJK SC',sans-serif"><textPath href="#lgarc" startOffset="0.5" textLength="69.5" lengthAdjust="spacing">የኢትዮጵያ ሚቲዎሮሎጂ ኢንስቲትዩት</textPath></text>
<circle cx="440.3" cy="162" r="2.9" fill="#ffb400"/><circle cx="440.3" cy="162" r="1.8" fill="#ff5a1e"/>
<path d="M436.5,165.5 q-1.2,-2 1.5,-2.6 q1.5,-2 4.5,-1.4 q2,-2.2 6,-1.2 q3.5,-1.4 6.5,0.6 q4,-0.2 5,2.2 q2.6,0.6 1.6,2.4 q-2,1.6 -6,1 q-5,1.4 -10,0.4 q-5,0.6 -9.1,-1.4z" fill="#27376f"/>
<path d="M439,163.8 q5,-2.4 11,-0.8 q5,-1.4 9,0.8" fill="none" stroke="#4a6fb5" stroke-width="0.7"/>
<g stroke="#3a4f8a" stroke-width="0.45" stroke-dasharray="0.8 1.4"><line x1="441" y1="168" x2="440.4" y2="172.5"/><line x1="444" y1="168" x2="443.4" y2="174"/><line x1="447" y1="168.2" x2="446.4" y2="175"/><line x1="450" y1="168.2" x2="449.4" y2="174"/><line x1="453" y1="168" x2="452.4" y2="173"/><line x1="456" y1="167.6" x2="455.4" y2="171"/></g>
<path d="M425,184.6 L425.5,181 Q430,176 436,179 Q441,178.5 446.5,174.6 Q451,176 455,179.4 Q461,178 466,181 Q470,181.6 472,184.8 Z" fill="#3c9a2c"/>
<path d="M425.2,184.8 Q432,180.5 440,182.5 Q447,178 452,181.5 Q460,181 472,185 Z" fill="#1f6b2a"/>
<path d="M446.5,174.8 Q449,177 451.5,179.4 Q448,179 446,181.4 Q444.6,178 446.5,174.8Z" fill="#7ed04a"/>
<path d="M455.5,179.6 Q450,181 450.6,182.6 Q446,183.4 442,185.4 L447,185.4 Q450,183.6 453.4,183 Q452.6,181.4 455.5,179.6Z" fill="#5fd0e6"/>
<text x="448.5" y="188.3" font-size="2.9" font-weight="bold" text-anchor="middle" fill="#1d2f7a" textLength="43" lengthAdjust="spacingAndGlyphs">Ethiopian Meteorology Institute</text>
<line x1="428" y1="189.4" x2="442.5" y2="189.4" stroke="#2f7fdc" stroke-width="0.45"/><line x1="451" y1="189.4" x2="469" y2="189.4" stroke="#2f7fdc" stroke-width="0.45"/>
<line x1="431" y1="190.6" x2="442.5" y2="190.6" stroke="#2f7fdc" stroke-width="0.35"/><line x1="451" y1="190.6" x2="466" y2="190.6" stroke="#2f7fdc" stroke-width="0.35"/>
<ellipse cx="446.8" cy="190" rx="2.3" ry="1.5" fill="none" stroke="#444" stroke-width="0.5"/><circle cx="446.8" cy="190" r="0.6" fill="#555"/>
</g>
</svg></body></html>
